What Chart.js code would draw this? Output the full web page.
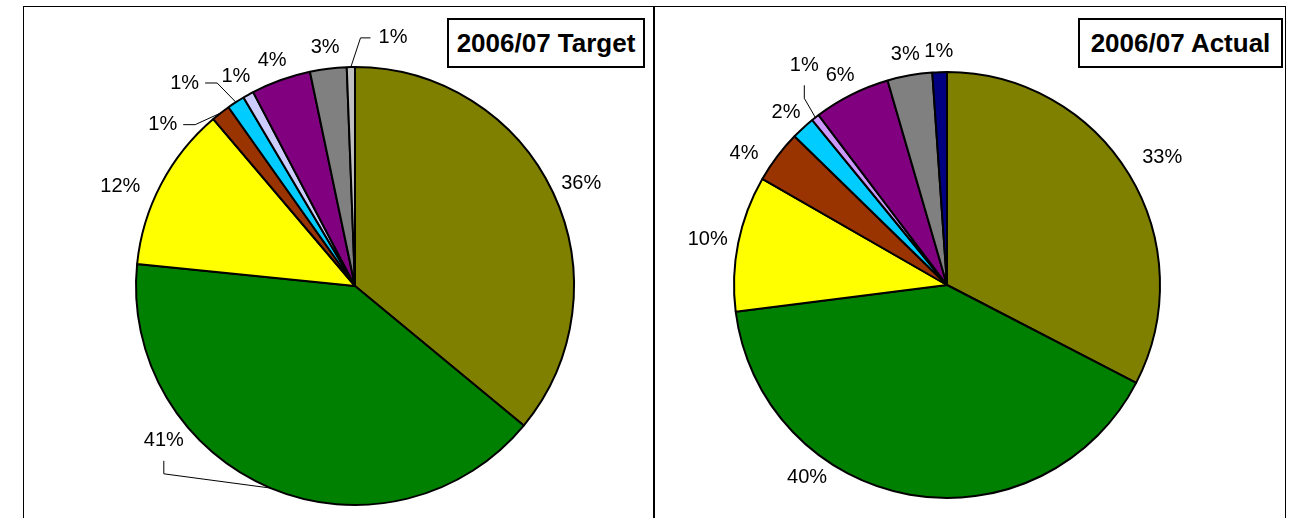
<!DOCTYPE html>
<html>
<head>
  <title>2006/07 Target vs Actual</title>
  <script src="https://cdn.jsdelivr.net/npm/chart.js"></script>
  <style>
    html, body { margin: 0; padding: 0; background: #fff; overflow: hidden; }
    body { width: 1300px; height: 518px; position: relative; font-family: "Liberation Sans", Arial, sans-serif; }
    .panel { position: absolute; top: 6px; height: 560px; box-sizing: border-box; border: 1px solid #000; }
    .panel canvas { position: absolute; left: 0; top: 0; }
    .title { position: absolute; top: 18px; height: 50px; box-sizing: border-box; border: 2px solid #000;
             background: #fff; font-weight: bold; font-size: 26px; line-height: 46px; text-align: center; color: #000; }
  </style>
</head>
<body>
  <div class="panel" style="left:23px; width:631px;">
    <canvas id="targetChart" width="629" height="511"></canvas>
  </div>
  <div class="panel" style="left:654px; width:632px;">
    <canvas id="actualChart" width="630" height="511"></canvas>
  </div>
  <div class="title" style="left:447px; width:198px;">2006/07 Target</div>
  <div class="title" style="left:1078px; width:205px;">2006/07 Actual</div>

  <script>
    // slice data (percent shares, clockwise from 12 o'clock)
    const categories = ['Category 1', 'Category 2', 'Category 3', 'Category 4', 'Category 5',
                        'Category 6', 'Category 7', 'Category 8', 'Category 9'];
    const targetValues = [36.0, 40.6, 12.2, 1.4, 1.3, 0.8, 4.4, 2.7, 0.6];
    const actualValues = [32.6, 40.4, 10.3, 4.0, 1.8, 0.6, 5.8, 3.4, 1.1];

    const targetColors = ['#808000', '#008000', '#FFFF00', '#993300', '#00CCFF', '#CCCCFF', '#800080', '#808080', '#C0C0C0'];
    const actualColors = ['#808000', '#008000', '#FFFF00', '#993300', '#00CCFF', '#CC99FF', '#800080', '#808080', '#000080'];

    // percentage labels outside the pie, Excel style (some moved with leader lines)
    const pctLabels = {
      id: 'pctLabels',
      afterDatasetsDraw(chart, args, opts) {
        const ctx = chart.ctx;
        const meta = chart.getDatasetMeta(0);
        const values = chart.data.datasets[0].data;
        const total = values.reduce((a, b) => a + b, 0);
        const h = opts.size;
        ctx.save();
        ctx.font = opts.size + 'px "Liberation Sans", Arial, sans-serif';
        ctx.fillStyle = '#000';
        ctx.strokeStyle = '#000';
        ctx.lineWidth = 1;
        ctx.textAlign = 'center';
        ctx.textBaseline = 'middle';
        meta.data.forEach((arc, i) => {
          const p = arc.getProps(['x', 'y', 'startAngle', 'endAngle', 'outerRadius'], true);
          const text = Math.round(values[i] / total * 100) + '%';
          const w = ctx.measureText(text).width;
          const mid = (p.startAngle + p.endAngle) / 2;
          const ov = (opts.moved || {})[i];
          let lx, ly;
          if (ov) {
            const a = (ov.angle - 90) * Math.PI / 180;
            lx = p.x + ov.dist * Math.cos(a);
            ly = p.y + ov.dist * Math.sin(a);
          } else {
            const d = p.outerRadius + opts.gap;
            lx = p.x + d * Math.cos(mid) + Math.cos(mid) * w / 2;
            ly = p.y + d * Math.sin(mid) + Math.sin(mid) * h / 2;
          }
          ctx.fillText(text, lx, ly);
          if (ov && ov.leader) {
            const ex = p.x + p.outerRadius * Math.cos(mid);
            const ey = p.y + p.outerRadius * Math.sin(mid);
            ctx.beginPath();
            if (ov.leader === 'bottom') {
              ctx.moveTo(lx, ly + 20); ctx.lineTo(lx, ly + 33);
            } else if (ov.leader === 'right') {
              ctx.moveTo(lx + w / 2 + 6, ly); ctx.lineTo(lx + w / 2 + 18, ly);
            } else {
              ctx.moveTo(lx - w / 2 - 8, ly); ctx.lineTo(lx - w / 2 - 18, ly);
            }
            ctx.lineTo(ex, ey);
            ctx.stroke();
          }
        });
        ctx.restore();
      }
    };

    function makePie(id, values, colors, padding, moved) {
      const ctx = document.getElementById(id).getContext('2d');
      return new Chart(ctx, {
        type: 'pie',
        data: {
          labels: categories,
          datasets: [{
            data: values,
            backgroundColor: colors,
            borderColor: '#000',
            borderWidth: 2,
            hoverOffset: 0,
            offset: 0
          }]
        },
        options: {
          responsive: false,
          animation: false,
          events: [],
          layout: { padding: padding },
          plugins: {
            legend: { display: false },
            tooltip: { enabled: false },
            pctLabels: { size: 20, gap: 11, moved: moved }
          }
        },
        plugins: [pctLabels]
      });
    }

    makePie('targetChart', targetValues, targetColors,
      { left: 111, right: 78, top: 59, bottom: 12 },
      {
        1: { angle: 231, dist: 246, leader: 'bottom' },
        2: { angle: 293, dist: 255 },
        3: { angle: 310, dist: 251, leader: 'right' },
        4: { angle: 320, dist: 265, leader: 'right' },
        8: { angle: 8.7, dist: 251, leader: 'left' }
      });

    makePie('actualChart', actualValues, actualColors,
      { left: 78, right: 124, top: 64, bottom: 19 },
      {
        0: { angle: 59.4, dist: 250 },
        1: { angle: 216, dist: 238 },
        3: { angle: 303, dist: 242 },
        5: { angle: 327, dist: 262, leader: 'bottom' }
      });
  </script>
</body>
</html>
